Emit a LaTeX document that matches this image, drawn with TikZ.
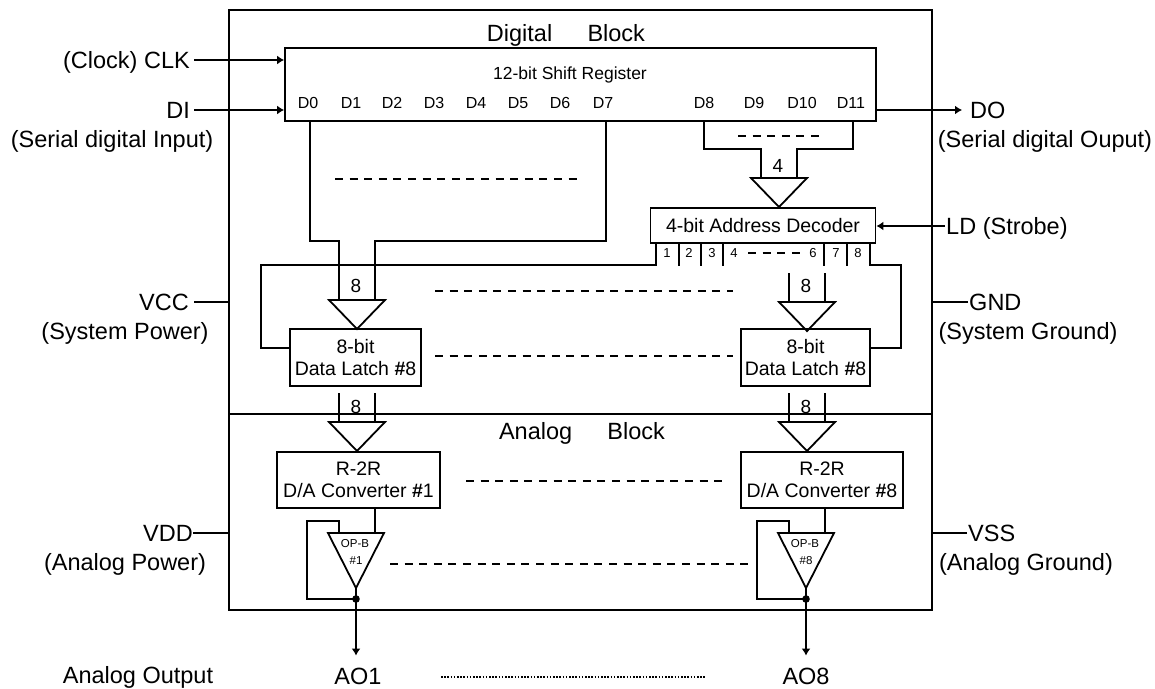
\documentclass[tikz,border=0pt]{standalone}
\usepackage{fontspec}
\setmainfont{Liberation Sans}
\usetikzlibrary{arrows.meta}
\tikzset{
    wire/.style = {
        line width=1.8pt,
        line join=miter
    },
    dashwire/.style = {
        line width=1.8pt,
        dash pattern=on 8pt off 6.6pt
    },
    flow/.style = {
        wire,
        -{Latex[length=7pt,width=9pt]}
    },
    blockbox/.style = {
        draw=black,
        line width=1.8pt,
        align=center,
        inner sep=0pt,
        font=\fontsize{19.5}{22}\selectfont
    },
    pintext/.style = {
        inner sep=0pt,
        font=\fontsize{16}{18}\selectfont,
        text height=11.5pt,
        text depth=0pt
    },
    bustext/.style = {
        inner sep=0pt,
        font=\fontsize{19}{21}\selectfont,
        text height=13.5pt,
        text depth=0pt
    },
    tinytext/.style = {
        inner sep=0pt,
        font=\fontsize{13}{15}\selectfont,
        text height=9.5pt,
        text depth=0pt
    },
    optext/.style = {
        inner sep=0pt,
        font=\fontsize{11.5}{13}\selectfont
    },
    sidetext/.style = {
        inner sep=0pt,
        font=\fontsize{23.5}{27}\selectfont,
        text height=16.5pt,
        text depth=0pt
    },
    bustri/.pic = {
        \draw[wire] (-28,0) -- (28,0) -- (0,29) coordinate (-tip) -- cycle;
        \coordinate (-a) at (-18,0);
        \coordinate (-b) at (18,0);
    },
    optri/.pic = {
        \draw[wire] (-28,0) -- (28,0) -- (0,55) coordinate (-tip) -- cycle;
        \coordinate (-a) at (-17,0);
        \coordinate (-b) at (19,0);
    }
}
\begin{document}
\begin{tikzpicture}[x=1pt,y=-1pt]
    \useasboundingbox (0,0) rectangle (1155,688);

    % blocks
    \node [draw,line width=1.8pt,minimum width=703pt,minimum height=600pt,inner sep=0pt] (chip) at (580.5,310) {};
    \coordinate (splitL) at (229,414);
    \coordinate (splitR) at (932,414);
    \draw[wire] (splitL) -- (splitR);
    \node [sidetext] (digital) at (566,33) {Digital\hspace{1.5em}Block};
    \node [sidetext] (analog) at (582,431) {Analog\hspace{1.5em}Block};

    \node [blockbox,minimum width=591pt,minimum height=73pt] (shift) at (580.5,84.5) {};
    \node [inner sep=0pt,font=\fontsize{17.5}{20}\selectfont] (shifttext) at (570,75) {12-bit Shift Register};
    \node [blockbox,minimum width=225pt,minimum height=35pt] (decoder) at (763,225.5) {4-bit Address Decoder};
    \node [blockbox,minimum width=131pt,minimum height=57pt] (latchA) at (355.5,357.5) {8-bit\\Data Latch \textbf{\#}8};
    \node [blockbox,minimum width=129pt,minimum height=57pt] (latchB) at (805.5,357.5) {8-bit\\Data Latch \textbf{\#}8};
    \node [blockbox,minimum width=163pt,minimum height=56pt] (dacA) at (358.5,480) {R-2R\\D/A Converter \textbf{\#}1};
    \node [blockbox,minimum width=162pt,minimum height=56pt] (dacB) at (822,480) {R-2R\\D/A Converter \textbf{\#}8};

    % register pins
    \foreach \name/\xpos in {D0/308,D1/351,D2/392,D3/434,D4/476,D5/518,D6/560,D7/603,D8/704,D9/754,D10/802,D11/851}
        \node [pintext] (\name) at (\xpos,103) {\name};
    \coordinate (pinD0) at (310,121);
    \coordinate (pinD7) at (606,121);
    \coordinate (pinD8) at (704,121);
    \coordinate (pinD11) at (853,121);

    % bus triangles
    \pic (triC) at (779,178) {bustri};
    \pic (triA) at (357,300) {bustri};
    \pic (triB) at (807,302) {bustri};
    \pic (triE) at (357,422) {bustri};
    \pic (triF) at (807,422) {bustri};
    \node [bustext] (busC) at (778,166) {4};
    \node [bustext] (busA) at (356,286) {8};
    \node [bustext] (busB) at (806,286) {8};
    \node [bustext] (busE) at (356,407) {8};
    \node [bustext] (busF) at (806,407) {8};

    % buses
    \draw[wire] (pinD0) -- ++(0,120) -| (triA-a);
    \draw[wire] (pinD7) -- ++(0,120) -| (triA-b);
    \draw[wire] (pinD8) -- ++(0,28) -| (triC-a);
    \draw[wire] (pinD11) -- ++(0,28) -| (triC-b);
    \draw[wire] (triB-a) -- ++(0,-29);
    \draw[wire] (triB-b) -- ++(0,-29);
    \draw[wire] (triE-a) -- ++(0,-29);
    \draw[wire] (triE-b) -- ++(0,-29);
    \draw[wire] (triF-a) -- ++(0,-29);
    \draw[wire] (triF-b) -- ++(0,-29);

    % decoder outputs
    \coordinate (out1) at (656,243);
    \coordinate (out8) at (870,243);
    \draw[wire] (out1) -- ++(0,22) -- ++(-395,0) |- ([yshift=9.5pt]latchA.west);
    \draw[wire] (out8) -- ++(0,22) -- ++(31,0) |- ([yshift=9.5pt]latchB.east);
    \foreach \xpos in {679,701,723,824,847}
        \draw[wire] (\xpos,243) -- (\xpos,266);
    \foreach \lab/\xpos in {1/667,2/689,3/712,4/734,6/813,7/836,8/858}
        \node [tinytext] (sel\lab) at (\xpos,253) {\lab};

    % op amps
    \pic (opA) at (356,533) {optri};
    \pic (opB) at (806,533) {optri};
    \node [optext] (opAname) at (355,544) {OP-B};
    \node [optext] (opAnum) at (356,561) {\#1};
    \node [optext] (opBname) at (805,544) {OP-B};
    \node [optext] (opBnum) at (806,561) {\#8};
    \draw[wire] (opA-b) -- (opA-b |- dacA.south);
    \draw[wire] (opB-b) -- (opB-b |- dacB.south);
    \draw[wire] (opA-a) -- ++(0,-12) -- ++(-32,0) -- ++(0,78) coordinate (fbA) -- ++(49,0) coordinate (dotA);
    \draw[wire] (opB-a) -- ++(0,-12) -- ++(-32,0) -- ++(0,78) coordinate (fbB) -- ++(49,0) coordinate (dotB);
    \fill (dotA) circle (3.8pt);
    \fill (dotB) circle (3.8pt);

    % outputs
    \node [sidetext] (aoA) at (358,676) {AO1};
    \node [sidetext] (aoB) at (806,676) {AO8};
    \node [sidetext] (aotitle) at (138,675) {Analog Output};
    \coordinate (endA) at (opA-tip |- aoA.north);
    \coordinate (endB) at (opB-tip |- aoB.north);
    \draw[flow] (opA-tip) -- ([yshift=12pt]endA);
    \draw[flow] (opB-tip) -- ([yshift=12pt]endB);

    % side signals
    \node [sidetext,anchor=east,inner xsep=4pt] (clk) at (194,60) {(Clock) CLK};
    \node [sidetext,anchor=east,inner xsep=4pt] (di) at (194,110) {DI};
    \node [sidetext] (dinote) at (112,139) {(Serial digital Input)};
    \node [sidetext,anchor=west,inner xsep=8pt] (dout) at (962,110) {DO};
    \node [sidetext] (donote) at (1045,139) {(Serial digital Ouput)};
    \node [sidetext,anchor=west,inner xsep=1pt] (ld) at (945,226) {LD (Strobe)};
    \node [sidetext,anchor=east,inner xsep=5pt] (vcc) at (194,302) {VCC};
    \node [sidetext] (vccnote) at (125,331) {(System Power)};
    \node [sidetext,anchor=west,inner xsep=1pt] (gnd) at (968,302) {GND};
    \node [sidetext] (gndnote) at (1028,331) {(System Ground)};
    \node [sidetext,anchor=east] (vdd) at (193,533) {VDD};
    \node [sidetext] (vddnote) at (125,562) {(Analog Power)};
    \node [sidetext,anchor=west,inner xsep=1pt] (vss) at (967,533) {VSS};
    \node [sidetext] (vssnote) at (1026,562) {(Analog Ground)};

    \draw[flow] (clk.east) -- (clk.east -| shift.west);
    \draw[flow] (di.east) -- (di.east -| shift.west);
    \draw[flow] (di.east -| shift.east) -- (dout.west);
    \draw[flow] (ld.west) -- (ld.west -| decoder.east);
    \draw[wire] (vcc.east) -- (vcc.east -| chip.west);
    \draw[wire] (gnd.west) -- (gnd.west -| chip.east);
    \draw[wire] (vdd.east) -- (vdd.east -| chip.west);
    \draw[wire] (vss.west) -- (vss.west -| chip.east);

    % dashed repeats
    \draw[dashwire] (335,179) -- (580,179);
    \draw[dashwire] (738,136) -- (820,136);
    \draw[dashwire] (748,253) -- (800,253);
    \draw[dashwire] (435,291) -- (733,291);
    \draw[dashwire] (435,356) -- (733,356);
    \draw[dashwire] (466,481) -- (722,481);
    \draw[dashwire] (390,564) -- (748,564);
    \draw[line width=1.5pt,dash pattern=on 1.5pt off 1.7pt] (441,677) -- (705,677);
\end{tikzpicture}
\end{document}
